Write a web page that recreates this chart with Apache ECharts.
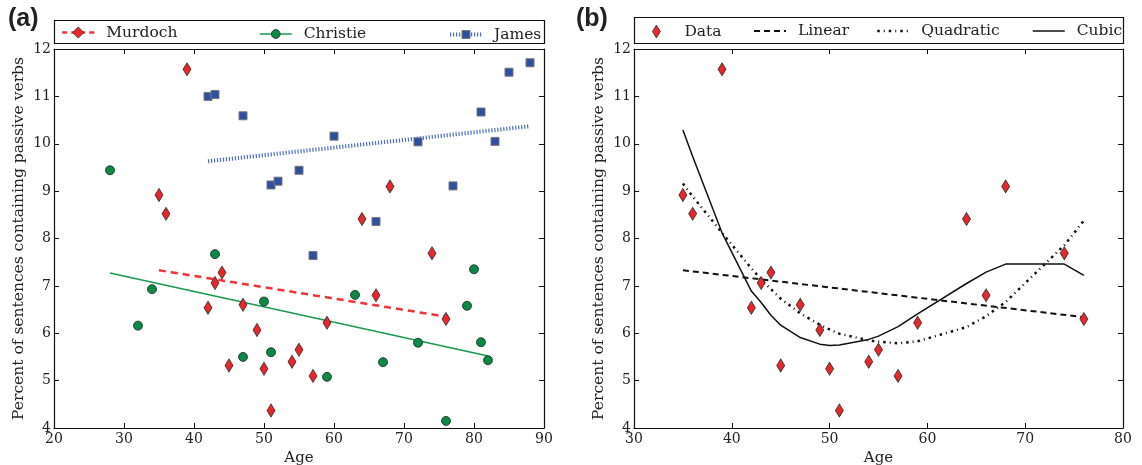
<!DOCTYPE html>
<html>
<head>
<meta charset="utf-8">
<script src="https://cdn.jsdelivr.net/npm/echarts@6.0.0/dist/echarts.min.js"></script>
<style>
  html, body { margin: 0; padding: 0; background: #fff; }
  #chart { width: 1142px; height: 465px; }
</style>
</head>
<body>
<div id="chart"></div>
<script>
// panel (a): three authors
const murdochAge = [35, 36, 39, 42, 43, 44, 45, 47, 49, 50, 51, 54, 55, 57, 59, 64, 66, 68, 74, 76];
const murdochPct = [8.92, 8.52, 11.57, 6.54, 7.06, 7.28, 5.32, 6.60, 6.07, 5.25, 4.37, 5.40, 5.65, 5.10, 6.22, 8.41, 6.80, 9.10, 7.69, 6.30];

const christieAge = [28, 32, 34, 43, 47, 50, 51, 59, 63, 67, 72, 76, 79, 80, 81, 82];
const christiePct = [9.44, 6.16, 6.93, 7.67, 5.50, 6.67, 5.60, 5.08, 6.81, 5.39, 5.80, 4.15, 6.58, 7.35, 5.81, 5.43];

const jamesAge = [42, 43, 47, 51, 52, 55, 57, 60, 66, 72, 77, 81, 83, 85, 88];
const jamesPct = [11.00, 11.04, 10.59, 9.13, 9.21, 9.44, 7.64, 10.16, 8.36, 10.04, 9.11, 10.67, 10.05, 11.51, 11.71];

// regression lines (end points)
const murdochFit = [[35, 7.33], [76, 6.35]];
const christieFit = [[28, 7.27], [82, 5.52]];
const jamesFit = [[42, 9.63], [88, 10.37]];

// panel (b): fits to Murdoch, evaluated at her ages
const linearFit = [[35, 7.33], [76, 6.34]];
const quadraticFit = [9.16, 8.89, 8.12, 7.37, 7.14, 6.93, 6.73, 6.42, 6.18, 6.08, 5.99, 5.85, 5.82, 5.79, 5.83, 6.13, 6.36, 6.66, 7.86, 8.38];
const cubicFit = [10.29, 9.73, 8.12, 6.89, 6.65, 6.38, 6.17, 5.91, 5.77, 5.74, 5.75, 5.87, 5.94, 6.14, 6.41, 7.05, 7.29, 7.46, 7.46, 7.22];

const yTicks = [4, 12, 1];
const xTicksA = [20, 90, 10];
const xTicksB = [30, 80, 10];

const serif = 'DejaVu Serif';
const red = '#e8262c';
const green = '#0a8a44';
const blue = '#2f4fa0';
const ink = '#111';
const yName = 'Percent of sentences containing passive verbs';

function pairs(xs, ys) {
  return xs.map((x, i) => [x, ys[i]]);
}

function xAxes(gridIndex, ticks) {
  const base = {
    gridIndex, type: 'value', min: ticks[0], max: ticks[1], interval: ticks[2],
    splitLine: { show: false },
    axisLine: { show: true, onZero: false, lineStyle: { color: ink, width: 1.2 } },
    axisTick: { show: true, inside: true, length: 5, lineStyle: { color: ink } }
  };
  return [
    Object.assign({}, base, {
      position: 'bottom',
      axisLabel: { fontFamily: serif, fontSize: 14, color: '#222', margin: 4 },
      name: 'Age', nameLocation: 'middle', nameGap: 20,
      nameTextStyle: { fontFamily: serif, fontSize: 15, color: '#222' }
    }),
    Object.assign({}, base, { position: 'top', axisLabel: { show: false } })
  ];
}

function yAxes(gridIndex) {
  const base = {
    gridIndex, type: 'value', min: yTicks[0], max: yTicks[1], interval: yTicks[2],
    splitLine: { show: false },
    axisLine: { show: true, onZero: false, lineStyle: { color: ink, width: 1.2 } },
    axisTick: { show: true, inside: true, length: 5, lineStyle: { color: ink } }
  };
  return [
    Object.assign({}, base, {
      position: 'left',
      axisLabel: { fontFamily: serif, fontSize: 14, color: '#222', margin: 3 },
      name: yName, nameLocation: 'middle', nameGap: 27,
      nameTextStyle: { fontFamily: serif, fontSize: 15.5, color: '#222' }
    }),
    Object.assign({}, base, { position: 'right', axisLabel: { show: false } })
  ];
}

function legendItem(name, left, top, opts) {
  return Object.assign({
    data: [name], left, top, padding: 0, orient: 'horizontal',
    selectedMode: false, itemWidth: 32, itemHeight: 14,
    textStyle: { fontFamily: serif, fontSize: 15.5, color: '#222', padding: [0, 0, 0, 7] }
  }, opts);
}

const chart = echarts.init(document.getElementById('chart'));

const option = {
  animation: false,
  backgroundColor: '#fff',
  grid: [
    { left: 54, top: 49, width: 490, height: 379, outerBoundsMode: 'none' },
    { left: 634, top: 49, width: 489, height: 379, outerBoundsMode: 'none' }
  ],
  xAxis: xAxes(0, xTicksA).concat(xAxes(1, xTicksB)),
  yAxis: yAxes(0).concat(yAxes(1)),
  legend: [
    legendItem('Murdoch', 61, 24.5, {
      lineStyle: { color: '#f2333a', width: 2.5, type: [5, 4] },
      itemStyle: { color: red, borderColor: '#333', borderWidth: 0.8 }
    }),
    legendItem('Christie', 259, 26, {
      itemHeight: 11,
      lineStyle: { color: '#1a9a50', width: 1.5, type: 'solid' },
      itemStyle: { color: green, borderColor: '#222', borderWidth: 0.8 }
    }),
    legendItem('James', 448, 26.5, {
      itemHeight: 10,
      lineStyle: { color: '#4a6cc8', width: 4, type: [1.2, 1.8] },
      itemStyle: { color: blue, borderColor: '#777', borderWidth: 1 }
    }),
    legendItem('Data', 652, 23.5, {
      itemWidth: 8, itemHeight: 13,
      itemStyle: { color: red, borderColor: '#333', borderWidth: 0.8 },
      textStyle: { fontFamily: serif, fontSize: 15.5, color: '#222', padding: [0, 0, 0, 19] }
    }),
    legendItem('Linear', 753, 23, {
      lineStyle: { color: ink, width: 2, type: [6, 4] },
      itemStyle: { opacity: 0 }
    }),
    legendItem('Quadratic', 876, 23, {
      lineStyle: { color: ink, width: 2.5, type: [2.5, 4, 1, 4] },
      itemStyle: { opacity: 0 }
    }),
    legendItem('Cubic', 1032, 23, {
      lineStyle: { color: ink, width: 1.5, type: 'solid' },
      itemStyle: { opacity: 0 }
    })
  ],
  graphic: [
    { type: 'rect', silent: true, shape: { x: 54.5, y: 20.5, width: 490, height: 23 },
      style: { fill: 'none', stroke: ink, lineWidth: 1.2 } },
    { type: 'rect', silent: true, shape: { x: 634.5, y: 17.5, width: 489, height: 26 },
      style: { fill: 'none', stroke: ink, lineWidth: 1.2 } },
    { type: 'text', silent: true, left: 8, top: 7,
      style: { text: '(a)', font: 'bold 25px "Liberation Sans"', fill: '#222' } },
    { type: 'text', silent: true, left: 576, top: 7,
      style: { text: '(b)', font: 'bold 25px "Liberation Sans"', fill: '#222' } }
  ],
  series: [
    // panel (a)
    {
      name: 'Murdoch', type: 'line', xAxisIndex: 0, yAxisIndex: 0, data: murdochFit,
      symbol: 'diamond', showSymbol: false, silent: true, z: 2,
      lineStyle: { color: '#f2333a', width: 2.5, type: [7, 5] },
      itemStyle: { color: red, borderColor: '#333', borderWidth: 0.8 }
    },
    {
      name: 'Christie', type: 'line', xAxisIndex: 0, yAxisIndex: 0, data: christieFit,
      symbol: 'circle', showSymbol: false, silent: true, z: 2,
      lineStyle: { color: '#1a9a50', width: 1.5 },
      itemStyle: { color: green, borderColor: '#222', borderWidth: 0.8 }
    },
    {
      name: 'James', type: 'line', xAxisIndex: 0, yAxisIndex: 0, data: jamesFit,
      symbol: 'rect', showSymbol: false, silent: true, z: 2,
      lineStyle: { color: '#4a6cc8', width: 4, type: [1.2, 1.8] },
      itemStyle: { color: blue, borderColor: '#777', borderWidth: 1 }
    },
    {
      name: 'Murdoch', type: 'scatter', xAxisIndex: 0, yAxisIndex: 0,
      data: pairs(murdochAge, murdochPct), symbol: 'diamond', symbolSize: [8, 13], z: 5,
      itemStyle: { color: red, borderColor: '#333', borderWidth: 0.8, opacity: 1 }
    },
    {
      name: 'Christie', type: 'scatter', xAxisIndex: 0, yAxisIndex: 0,
      data: pairs(christieAge, christiePct), symbol: 'circle', symbolSize: 9, z: 5,
      itemStyle: { color: green, borderColor: '#222', borderWidth: 0.8, opacity: 1 }
    },
    {
      name: 'James', type: 'scatter', xAxisIndex: 0, yAxisIndex: 0,
      data: pairs(jamesAge, jamesPct), symbol: 'rect', symbolSize: 8, z: 5,
      itemStyle: { color: blue, borderColor: '#777', borderWidth: 1, opacity: 1 }
    },
    // panel (b)
    {
      name: 'Linear', type: 'line', xAxisIndex: 2, yAxisIndex: 2, data: linearFit,
      symbol: 'none', silent: true, z: 2,
      lineStyle: { color: ink, width: 2, type: [6, 4] }
    },
    {
      name: 'Quadratic', type: 'line', xAxisIndex: 2, yAxisIndex: 2,
      data: pairs(murdochAge, quadraticFit), symbol: 'none', silent: true, z: 2,
      lineStyle: { color: ink, width: 2.5, type: [2.5, 4, 1, 4] }
    },
    {
      name: 'Cubic', type: 'line', xAxisIndex: 2, yAxisIndex: 2,
      data: pairs(murdochAge, cubicFit), symbol: 'none', silent: true, z: 2,
      lineStyle: { color: ink, width: 1.5 }
    },
    {
      name: 'Data', type: 'scatter', xAxisIndex: 2, yAxisIndex: 2,
      data: pairs(murdochAge, murdochPct), symbol: 'diamond', symbolSize: [8, 13], z: 5,
      itemStyle: { color: red, borderColor: '#333', borderWidth: 0.8, opacity: 1 }
    }
  ]
};

chart.setOption(option);
</script>
</body>
</html>
